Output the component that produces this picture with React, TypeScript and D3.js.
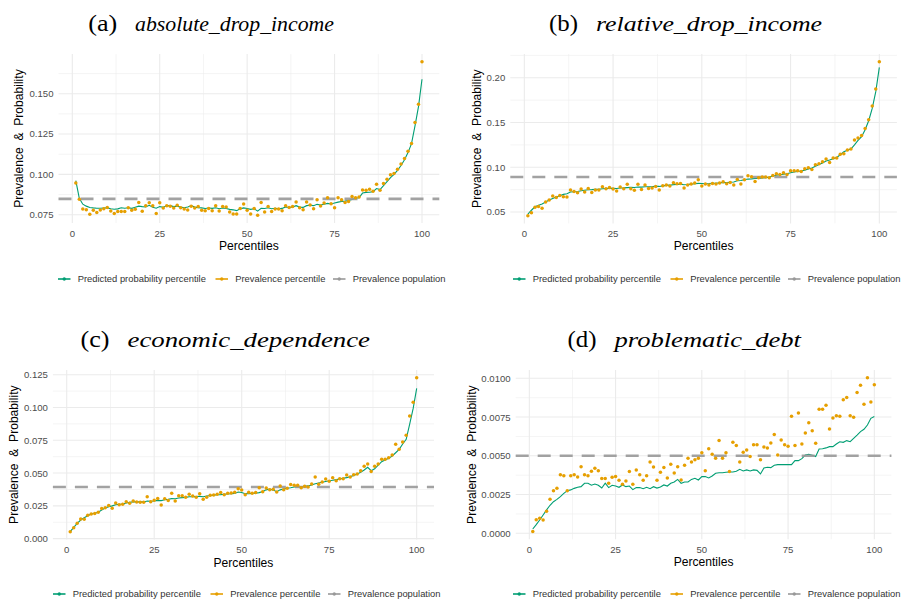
import React from 'react';
import * as d3 from 'd3';

// ---------- data ----------
const percentiles = d3.range(1, 101);

const absPrev = [
  0.0946, 0.0845, 0.0785, 0.0781, 0.0752, 0.0777, 0.0764, 0.0779, 0.0787, 0.0795,
  0.0773, 0.0758, 0.0769, 0.0769, 0.0769, 0.0793, 0.0777, 0.0783, 0.0826, 0.0771,
  0.0806, 0.0824, 0.0806, 0.0758, 0.0824, 0.0791, 0.0806, 0.0802, 0.0791, 0.0808,
  0.0793, 0.0785, 0.0779, 0.0802, 0.0791, 0.0800, 0.0777, 0.0775, 0.0789, 0.0775,
  0.0806, 0.0773, 0.0800, 0.0798, 0.0767, 0.0754, 0.0754, 0.0789, 0.0816, 0.0777,
  0.0754, 0.0789, 0.0746, 0.0826, 0.0767, 0.0800, 0.0769, 0.0785, 0.0785, 0.0775,
  0.0806, 0.0795, 0.0800, 0.0829, 0.0793, 0.0781, 0.0829, 0.0810, 0.0787, 0.0843,
  0.0804, 0.0822, 0.0855, 0.0818, 0.0793, 0.0855, 0.0843, 0.0826, 0.0831, 0.0862,
  0.0855, 0.0860, 0.0903, 0.0901, 0.0907, 0.0895, 0.0938, 0.0901, 0.0944, 0.0969,
  0.0998, 0.1006, 0.1031, 0.1064, 0.1099, 0.1143, 0.1192, 0.1322, 0.1434, 0.1698,
];
const absPred = [
  0.0961, 0.0851, 0.0815, 0.0803, 0.0795, 0.0792, 0.0790, 0.0790, 0.0791, 0.0792,
  0.0787, 0.0784, 0.0786, 0.0793, 0.0790, 0.0793, 0.0789, 0.0796, 0.0803, 0.0800,
  0.0798, 0.0808, 0.0796, 0.0790, 0.0800, 0.0796, 0.0805, 0.0806, 0.0800, 0.0803,
  0.0797, 0.0793, 0.0798, 0.0806, 0.0797, 0.0794, 0.0792, 0.0788, 0.0791, 0.0789,
  0.0793, 0.0787, 0.0791, 0.0788, 0.0783, 0.0780, 0.0775, 0.0786, 0.0792, 0.0788,
  0.0783, 0.0787, 0.0772, 0.0790, 0.0788, 0.0793, 0.0787, 0.0790, 0.0786, 0.0789,
  0.0798, 0.0795, 0.0797, 0.0806, 0.0797, 0.0795, 0.0806, 0.0808, 0.0806, 0.0814,
  0.0810, 0.0815, 0.0820, 0.0816, 0.0822, 0.0828, 0.0832, 0.0834, 0.0838, 0.0845,
  0.0852, 0.0855, 0.0884, 0.0888, 0.0889, 0.0893, 0.0912, 0.0906, 0.0930, 0.0955,
  0.0980, 0.1000, 0.1025, 0.1055, 0.1090, 0.1135, 0.1190, 0.1300, 0.1420, 0.1590,
];

const relPrev = [
  0.0459, 0.0492, 0.0552, 0.0563, 0.0541, 0.0611, 0.0634, 0.0678, 0.0663, 0.0686,
  0.0671, 0.0667, 0.0745, 0.0730, 0.0716, 0.0757, 0.0723, 0.0764, 0.0719, 0.0745,
  0.0745, 0.0783, 0.0760, 0.0775, 0.0757, 0.0734, 0.0779, 0.0760, 0.0809, 0.0760,
  0.0742, 0.0809, 0.0753, 0.0801, 0.0764, 0.0768, 0.0786, 0.0745, 0.0794, 0.0801,
  0.0790, 0.0827, 0.0816, 0.0820, 0.0768, 0.0801, 0.0812, 0.0824, 0.0861, 0.0790,
  0.0812, 0.0801, 0.0820, 0.0812, 0.0824, 0.0838, 0.0816, 0.0831, 0.0801, 0.0864,
  0.0812, 0.0861, 0.0905, 0.0894, 0.0842, 0.0883, 0.0891, 0.0891, 0.0883, 0.0909,
  0.0928, 0.0920, 0.0939, 0.0920, 0.0961, 0.0961, 0.0961, 0.0954, 0.0984, 0.0995,
  0.0976, 0.1028, 0.1039, 0.1062, 0.1092, 0.1054, 0.1103, 0.1103, 0.1144, 0.1151,
  0.1192, 0.1203, 0.1304, 0.1326, 0.1356, 0.1434, 0.1531, 0.1684, 0.1873, 0.2179,
];
const relPred = [
  0.0477, 0.0520, 0.0559, 0.0575, 0.0589, 0.0612, 0.0634, 0.0652, 0.0668, 0.0683,
  0.0697, 0.0705, 0.0723, 0.0727, 0.0730, 0.0738, 0.0743, 0.0748, 0.0750, 0.0753,
  0.0755, 0.0760, 0.0762, 0.0764, 0.0764, 0.0762, 0.0768, 0.0770, 0.0773, 0.0775,
  0.0774, 0.0779, 0.0778, 0.0783, 0.0783, 0.0784, 0.0788, 0.0786, 0.0792, 0.0798,
  0.0800, 0.0806, 0.0808, 0.0810, 0.0805, 0.0808, 0.0812, 0.0815, 0.0820, 0.0818,
  0.0816, 0.0818, 0.0821, 0.0822, 0.0827, 0.0830, 0.0828, 0.0832, 0.0836, 0.0850,
  0.0852, 0.0860, 0.0868, 0.0870, 0.0874, 0.0876, 0.0880, 0.0884, 0.0890, 0.0902,
  0.0910, 0.0916, 0.0922, 0.0928, 0.0939, 0.0947, 0.0953, 0.0959, 0.0968, 0.0980,
  0.0992, 0.1010, 0.1030, 0.1048, 0.1069, 0.1080, 0.1095, 0.1110, 0.1140, 0.1173,
  0.1190, 0.1203, 0.1250, 0.1300, 0.1341, 0.1420, 0.1520, 0.1657, 0.1844, 0.2115,
];

const ecoPrev = [
  0.0053, 0.0084, 0.0117, 0.0150, 0.0147, 0.0178, 0.0188, 0.0191, 0.0201, 0.0229,
  0.0236, 0.0252, 0.0231, 0.0272, 0.0259, 0.0262, 0.0282, 0.0269, 0.0287, 0.0279,
  0.0277, 0.0277, 0.0320, 0.0282, 0.0292, 0.0307, 0.0257, 0.0305, 0.0290, 0.0346,
  0.0287, 0.0328, 0.0328, 0.0315, 0.0338, 0.0325, 0.0315, 0.0343, 0.0300, 0.0315,
  0.0330, 0.0333, 0.0338, 0.0351, 0.0335, 0.0346, 0.0348, 0.0353, 0.0381, 0.0371,
  0.0335, 0.0353, 0.0346, 0.0351, 0.0389, 0.0358, 0.0386, 0.0373, 0.0376, 0.0356,
  0.0401, 0.0373, 0.0384, 0.0412, 0.0407, 0.0407, 0.0389, 0.0399, 0.0394, 0.0417,
  0.0470, 0.0414, 0.0432, 0.0455, 0.0437, 0.0465, 0.0442, 0.0457, 0.0457, 0.0485,
  0.0470, 0.0488, 0.0493, 0.0518, 0.0551, 0.0569, 0.0511, 0.0551, 0.0569, 0.0605,
  0.0605, 0.0617, 0.0638, 0.0719, 0.0681, 0.0737, 0.0788, 0.0935, 0.1039, 0.1227,
];
const ecoPred = [
  0.0053, 0.0086, 0.0117, 0.0142, 0.0160, 0.0175, 0.0188, 0.0193, 0.0201, 0.0218,
  0.0233, 0.0244, 0.0250, 0.0259, 0.0262, 0.0264, 0.0272, 0.0277, 0.0280, 0.0280,
  0.0281, 0.0280, 0.0287, 0.0285, 0.0287, 0.0292, 0.0290, 0.0296, 0.0300, 0.0305,
  0.0304, 0.0310, 0.0313, 0.0315, 0.0320, 0.0320, 0.0321, 0.0322, 0.0320, 0.0325,
  0.0328, 0.0332, 0.0335, 0.0336, 0.0338, 0.0340, 0.0342, 0.0345, 0.0356, 0.0352,
  0.0343, 0.0342, 0.0345, 0.0346, 0.0351, 0.0360, 0.0372, 0.0378, 0.0370, 0.0358,
  0.0372, 0.0378, 0.0384, 0.0388, 0.0394, 0.0395, 0.0396, 0.0400, 0.0402, 0.0409,
  0.0418, 0.0424, 0.0430, 0.0436, 0.0442, 0.0445, 0.0450, 0.0455, 0.0460, 0.0465,
  0.0473, 0.0482, 0.0492, 0.0506, 0.0523, 0.0544, 0.0518, 0.0533, 0.0560, 0.0587,
  0.0600, 0.0612, 0.0630, 0.0655, 0.0681, 0.0722, 0.0757, 0.0874, 0.0993, 0.1146,
];

const debtPrev = [
  0.00011, 0.00088, 0.00097, 0.00086, 0.00142, 0.00219, 0.00275, 0.00290, 0.00378, 0.00372,
  0.00275, 0.00372, 0.00378, 0.00363, 0.00430, 0.00378, 0.00372, 0.00400, 0.00419, 0.00404,
  0.00353, 0.00353, 0.00323, 0.00361, 0.00366, 0.00342, 0.00316, 0.00338, 0.00398, 0.00316,
  0.00409, 0.00378, 0.00342, 0.00372, 0.00460, 0.00428, 0.00342, 0.00394, 0.00424, 0.00357,
  0.00445, 0.00389, 0.00430, 0.00344, 0.00439, 0.00484, 0.00460, 0.00475, 0.00484, 0.00520,
  0.00404, 0.00546, 0.00510, 0.00484, 0.00598, 0.00484, 0.00520, 0.00398, 0.00587, 0.00566,
  0.00460, 0.00523, 0.00538, 0.00495, 0.00572, 0.00572, 0.00475, 0.00557, 0.00551, 0.00583,
  0.00637, 0.00505, 0.00602, 0.00572, 0.00561, 0.00755, 0.00566, 0.00776, 0.00576, 0.00647,
  0.00714, 0.00662, 0.00581, 0.00800, 0.00800, 0.00826, 0.00673, 0.00744, 0.00759, 0.00755,
  0.00862, 0.00877, 0.00759, 0.00748, 0.00908, 0.00955, 0.00832, 0.01004, 0.00847, 0.00959,
];
const debtPred = [
  0.00028, 0.00056, 0.00086, 0.00118, 0.00151, 0.00181, 0.00204, 0.00219, 0.00237, 0.00258,
  0.00275, 0.00280, 0.00290, 0.00297, 0.00301, 0.00323, 0.00323, 0.00310, 0.00318, 0.00310,
  0.00292, 0.00323, 0.00295, 0.00310, 0.00305, 0.00297, 0.00312, 0.00301, 0.00305, 0.00282,
  0.00295, 0.00295, 0.00288, 0.00297, 0.00288, 0.00301, 0.00292, 0.00299, 0.00312, 0.00305,
  0.00323, 0.00331, 0.00348, 0.00323, 0.00331, 0.00331, 0.00348, 0.00355, 0.00344, 0.00366,
  0.00366, 0.00357, 0.00370, 0.00387, 0.00391, 0.00391, 0.00394, 0.00396, 0.00396, 0.00400,
  0.00413, 0.00402, 0.00409, 0.00402, 0.00409, 0.00406, 0.00383, 0.00422, 0.00426, 0.00424,
  0.00439, 0.00443, 0.00443, 0.00443, 0.00443, 0.00443, 0.00469, 0.00469, 0.00482, 0.00505,
  0.00510, 0.00503, 0.00495, 0.00544, 0.00546, 0.00551, 0.00559, 0.00559, 0.00576, 0.00591,
  0.00587, 0.00598, 0.00591, 0.00613, 0.00634, 0.00656, 0.00671, 0.00699, 0.00742, 0.00753,
];

const popPrevalence = [0.0848, 0.0891, 0.0394, 0.0050];

const xTicks = [0, 25, 50, 75, 100];
const absTicks = [0.075, 0.1, 0.125, 0.15];
const relTicks = [0.05, 0.1, 0.15, 0.2];
const ecoTicks = [0, 0.025, 0.05, 0.075, 0.1, 0.125];
const debtTicks = [0, 0.0025, 0.005, 0.0075, 0.01];

const panelLabels = ['(a)', '(b)', '(c)', '(d)'];
const panelNames = ['absolute_drop_income', 'relative_drop_income', 'economic_dependence', 'problematic_debt'];
const legendLabels = ['Predicted probability percentile', 'Prevalence percentile', 'Prevalence population'];

const yAxisTitle = 'Prevalence  &  Probability';
const xAxisTitle = 'Percentiles';

// ---------- styling / layout ----------
const GREEN = '#009E73';
const ORANGE = '#E69F00';
const GREY = '#999999';
const GRID = '#EBEBEB';

const layouts = [
  { left: 58.5, right: 439.3, top: 54.1, bottom: 223.0, fmt: '.3f', ticks: absTicks,
    titleX: 88.3, nameX: 135, nameEnd: 334, titleY: 31, yTitleX: 19, xLabY: 236.7, xTitleY: 250, legX: 58, legY: 279 },
  { left: 510.3, right: 896.9, top: 54.0, bottom: 223.4, fmt: '.2f', ticks: relTicks,
    titleX: 549, nameX: 596, nameEnd: 822, titleY: 31, yTitleX: 476.7, xLabY: 236.7, xTitleY: 250, legX: 513, legY: 279 },
  { left: 52.9, right: 434.0, top: 370.0, bottom: 539.4, fmt: '.3f', ticks: ecoTicks,
    titleX: 80.5, nameX: 127.5, nameEnd: 370, titleY: 347, yTitleX: 14, xLabY: 552.8, xTitleY: 566.5, legX: 53, legY: 594 },
  { left: 515.7, right: 891.4, top: 370.0, bottom: 539.3, fmt: '.4f', ticks: debtTicks,
    titleX: 567.5, nameX: 614.5, nameEnd: 801, titleY: 347, yTitleX: 471.7, xLabY: 552.5, xTitleY: 566.3, legX: 513, legY: 594 },
];

const predSeries = [absPred, relPred, ecoPred, debtPred];
const prevSeries = [absPrev, relPrev, ecoPrev, debtPrev];

const SANS = '"Liberation Sans", Arial, Helvetica, sans-serif';
const SERIF = '"Liberation Serif", "Times New Roman", serif';

function Panel({ i }: { i: number }) {
  const L = layouts[i];
  const pred = predSeries[i];
  const prev = prevSeries[i];
  const pop = popPrevalence[i];

  const xExt = [1, 100];
  const xPad = (xExt[1] - xExt[0]) * 0.05;
  const x = d3.scaleLinear().domain([xExt[0] - xPad, xExt[1] + xPad]).range([L.left, L.right]);

  const all = [...pred, ...prev, pop];
  const lo = d3.min(all) as number;
  const hi = d3.max(all) as number;
  const yPad = (hi - lo) * 0.05;
  const y = d3.scaleLinear().domain([lo - yPad, hi + yPad]).range([L.bottom, L.top]);
  const [yd0, yd1] = y.domain();

  const yt = L.ticks;
  const yStep = yt[1] - yt[0];
  const yMinor = [yt[0] - yStep / 2, ...yt.map((t) => t + yStep / 2)].filter((t) => t > yd0 && t < yd1);
  const xStep = 25;
  const xMinor = [xTicks[0] - xStep / 2, ...xTicks.map((t) => t + xStep / 2)].filter(
    (t) => t > x.domain()[0] && t < x.domain()[1]
  );
  const fmt = d3.format(L.fmt);

  const line = d3
    .line<number>()
    .x((_, k) => x(percentiles[k]))
    .y((d) => y(d));

  const midX = (L.left + L.right) / 2;
  const midY = (L.top + L.bottom) / 2;
  const legendOffsets = [0, 157.5, 275];
  const legendColors = [GREEN, ORANGE, GREY];

  return (
    <g>
      {/* title */}
      <text x={L.titleX} y={L.titleY} fontFamily={SERIF} fontSize={23} fill="#000" textLength={29} lengthAdjust="spacingAndGlyphs">
        {panelLabels[i]}
      </text>
      <text x={L.nameX} y={L.titleY} fontFamily={SERIF} fontStyle="italic" fontSize={22} fill="#000"
        textLength={L.nameEnd - L.nameX} lengthAdjust="spacingAndGlyphs">
        {panelNames[i]}
      </text>

      {/* grid */}
      {yMinor.map((t) => (
        <line key={'ym' + t} x1={L.left} x2={L.right} y1={y(t)} y2={y(t)} stroke={GRID} strokeWidth={0.55} />
      ))}
      {xMinor.map((t) => (
        <line key={'xm' + t} x1={x(t)} x2={x(t)} y1={L.top} y2={L.bottom} stroke={GRID} strokeWidth={0.55} />
      ))}
      {yt.map((t) => (
        <line key={'yM' + t} x1={L.left} x2={L.right} y1={y(t)} y2={y(t)} stroke={GRID} strokeWidth={1.1} />
      ))}
      {xTicks.map((t) => (
        <line key={'xM' + t} x1={x(t)} x2={x(t)} y1={L.top} y2={L.bottom} stroke={GRID} strokeWidth={1.1} />
      ))}

      {/* tick labels */}
      {yt.map((t) => (
        <text key={'yl' + t} x={L.left - 5} y={y(t)} dy="0.36em" textAnchor="end" fontFamily={SANS} fontSize={9.6} fill="#4D4D4D">
          {fmt(t)}
        </text>
      ))}
      {xTicks.map((t) => (
        <text key={'xl' + t} x={x(t)} y={L.xLabY} textAnchor="middle" fontFamily={SANS} fontSize={9.6} fill="#4D4D4D">
          {t}
        </text>
      ))}

      {/* axis titles */}
      <text x={midX} y={L.xTitleY} textAnchor="middle" fontFamily={SANS} fontSize={12.1} fill="#000">
        {xAxisTitle}
      </text>
      <text transform={`translate(${L.yTitleX},${midY}) rotate(-90)`} dy="0.36em" textAnchor="middle"
        fontFamily={SANS} fontSize={12.1} fill="#000" style={{ whiteSpace: 'pre' }}>
        {yAxisTitle}
      </text>

      {/* data */}
      <path d={line(pred) || ''} fill="none" stroke={GREEN} strokeWidth={1.1} />
      <line x1={L.left} x2={L.right} y1={y(pop)} y2={y(pop)} stroke={GREY} strokeWidth={2.6} strokeDasharray="13 9" opacity={0.9} />
      {prev.map((v, k) => (
        <circle key={'p' + k} cx={x(percentiles[k])} cy={y(v)} r={1.75} fill={ORANGE} />
      ))}

      {/* legend */}
      {legendLabels.map((lab, k) => {
        const kx = L.legX + legendOffsets[k];
        return (
          <g key={'lg' + k}>
            <line x1={kx} x2={kx + 12.5} y1={L.legY} y2={L.legY} stroke={legendColors[k]} strokeWidth={1.6} />
            <circle cx={kx + 6.25} cy={L.legY} r={1.7} fill={legendColors[k]} />
            <text x={kx + 19.7} y={L.legY} dy="0.35em" fontFamily={SANS} fontSize={9.4} fill="#333">
              {lab}
            </text>
          </g>
        );
      })}
    </g>
  );
}

export default function App() {
  return (
    <svg width={902} height={603} style={{ position: 'absolute', left: 0, top: 0, background: '#fff' }}>
      <rect x={0} y={0} width={902} height={603} fill="#fff" />
      {[0, 1, 2, 3].map((i) => (
        <Panel key={i} i={i} />
      ))}
    </svg>
  );
}
